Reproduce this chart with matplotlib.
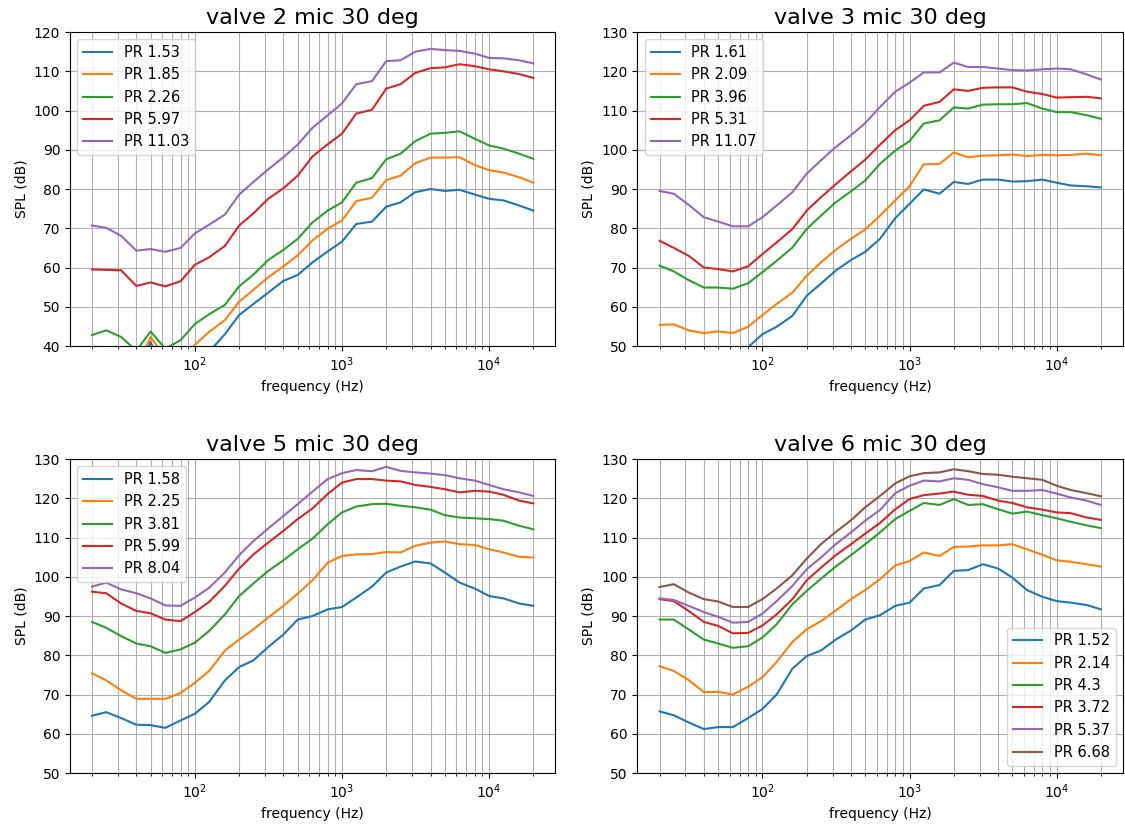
import numpy as np
import matplotlib.pyplot as plt

# 1/3 octave band centre frequencies
freq = [20, 25, 31.5, 40, 50, 63, 80, 100, 125, 160, 200, 250, 315, 400, 500,
        630, 800, 1000, 1250, 1600, 2000, 2500, 3150, 4000, 5000, 6300, 8000,
        10000, 12500, 16000, 20000]

# valve 2
v2_labels = ['PR 1.53', 'PR 1.85', 'PR 2.26', 'PR 5.97', 'PR 11.03']
v2_pr153 = [33, 34, 33, 32, 41.0, 33, 33, 35, 38.5, 43.0, 47.9, 50.7, 53.6, 56.6, 58.1,
            61.3, 64.1, 66.6, 71.1, 71.7, 75.5, 76.6, 79.2, 80.0, 79.5, 79.8, 78.6,
            77.5, 77.1, 75.8, 74.5]
v2_pr185 = [37, 38, 36, 34, 42.3, 37, 36, 40.3, 43.6, 46.6, 51.3, 54.3, 57.5, 60.3, 63.1,
            66.9, 69.9, 72.0, 76.9, 77.8, 82.3, 83.4, 86.6, 88.0, 88.0, 88.1, 86.1,
            84.8, 84.2, 83.0, 81.6]
v2_pr226 = [42.8, 44.0, 42.3, 38.8, 43.7, 39.3, 41.5, 45.6, 48.1, 50.5, 55.2, 58.2, 61.9,
            64.5, 67.3, 71.5, 74.5, 76.6, 81.6, 82.8, 87.6, 89.0, 92.2, 94.1, 94.3,
            94.7, 92.8, 91.1, 90.3, 89.0, 87.7]
v2_pr597 = [59.5, 59.4, 59.3, 55.3, 56.2, 55.2, 56.5, 60.7, 62.6, 65.5, 70.7, 73.8, 77.5,
            80.2, 83.4, 88.3, 91.4, 94.1, 99.2, 100.2, 105.6, 106.7, 109.6, 110.8,
            111.0, 111.8, 111.3, 110.5, 110.0, 109.3, 108.3]
v2_pr1103 = [70.7, 70.1, 68.1, 64.3, 64.7, 64.0, 65.0, 68.7, 70.9, 73.5, 78.6, 81.8, 85.0,
             88.1, 91.3, 95.6, 98.8, 101.8, 106.7, 107.5, 112.6, 112.8, 115.0, 115.7,
             115.4, 115.2, 114.5, 113.4, 113.3, 112.8, 112.0]

# valve 3
v3_labels = ['PR 1.61', 'PR 2.09', 'PR 3.96', 'PR 5.31', 'PR 11.07']
v3_pr161 = [47, 46.5, 45, 44, 44.5, 44, 49.7, 53.0, 54.9, 57.7, 62.8, 65.9, 69.2, 71.9,
            74.0, 77.3, 82.6, 86.2, 89.9, 88.8, 91.8, 91.3, 92.4, 92.4, 91.9, 92.0,
            92.4, 91.6, 90.9, 90.7, 90.4]
v3_pr209 = [55.4, 55.5, 54.0, 53.3, 53.7, 53.3, 54.9, 57.9, 60.7, 63.6, 67.9, 71.3, 74.5,
            77.3, 79.7, 83.2, 87.1, 90.7, 96.3, 96.4, 99.3, 98.1, 98.5, 98.6, 98.8,
            98.4, 98.7, 98.6, 98.7, 99.0, 98.6]
v3_pr396 = [70.5, 69.0, 66.8, 64.9, 64.9, 64.6, 66.0, 68.8, 71.7, 75.1, 79.8, 83.2, 86.6,
            89.4, 92.2, 96.4, 99.8, 102.2, 106.7, 107.5, 110.8, 110.5, 111.5, 111.6,
            111.6, 111.9, 110.5, 109.6, 109.6, 108.8, 107.9]
v3_pr531 = [76.8, 75.0, 73.0, 70.0, 69.6, 69.0, 70.3, 73.4, 76.4, 79.8, 84.5, 87.9, 91.2,
            94.5, 97.5, 101.3, 105.0, 107.5, 111.2, 112.2, 115.4, 115.0, 115.8, 115.9,
            115.9, 114.8, 114.2, 113.3, 113.4, 113.5, 113.1]
v3_pr1107 = [89.5, 88.8, 86.0, 82.8, 81.7, 80.5, 80.5, 82.8, 85.8, 89.2, 93.9, 97.3, 100.7,
             103.7, 106.8, 110.9, 114.8, 117.1, 119.7, 119.7, 122.2, 121.1, 121.1, 120.7,
             120.3, 120.2, 120.5, 120.7, 120.5, 119.2, 117.9]

# valve 5
v5_labels = ['PR 1.58', 'PR 2.25', 'PR 3.81', 'PR 5.99', 'PR 8.04']
v5_pr158 = [64.6, 65.5, 64.0, 62.3, 62.2, 61.5, 63.4, 65.1, 68.1, 73.6, 77.0, 78.7, 82.1,
            85.3, 89.1, 90.0, 91.7, 92.3, 94.7, 97.5, 101.1, 102.6, 103.9, 103.4, 101.1,
            98.5, 97.0, 95.1, 94.5, 93.2, 92.6]
v5_pr225 = [75.4, 73.6, 71.1, 68.9, 68.9, 68.9, 70.4, 73.0, 76.0, 81.2, 84.0, 86.6, 89.6,
            92.6, 95.7, 99.1, 103.6, 105.3, 105.7, 105.8, 106.3, 106.2, 107.9, 108.7,
            109.0, 108.3, 108.1, 107.0, 106.2, 105.1, 104.9]
v5_pr381 = [88.5, 87.0, 84.9, 83.0, 82.3, 80.6, 81.5, 83.2, 86.2, 90.4, 95.1, 98.3, 101.5,
            104.2, 107.0, 109.7, 113.4, 116.4, 117.9, 118.5, 118.6, 118.1, 117.7, 117.1,
            115.7, 115.1, 114.9, 114.7, 114.3, 113.0, 112.1]
v5_pr599 = [96.2, 95.8, 93.2, 91.3, 90.7, 89.1, 88.7, 91.0, 93.6, 97.7, 102.1, 105.7, 108.7,
            111.7, 114.7, 117.4, 121.1, 124.0, 124.9, 124.9, 124.5, 124.3, 123.4, 122.9,
            122.3, 121.5, 121.9, 121.7, 120.9, 119.4, 118.7]
v5_pr804 = [97.5, 98.5, 96.8, 95.8, 94.5, 92.7, 92.6, 94.7, 97.2, 101.1, 105.5, 109.1, 112.3,
            115.5, 118.5, 121.7, 124.9, 126.4, 127.2, 126.9, 128.0, 127.0, 126.6, 126.3,
            125.9, 125.1, 124.5, 123.4, 122.3, 121.5, 120.6]

# valve 6
v6_labels = ['PR 1.52', 'PR 2.14', 'PR 4.3', 'PR 3.72', 'PR 5.37', 'PR 6.68']
v6_pr152 = [65.7, 64.7, 62.9, 61.2, 61.7, 61.7, 64.0, 66.3, 70.0, 76.6, 79.8, 81.2, 84.0,
            86.3, 89.1, 90.2, 92.6, 93.4, 97.0, 97.9, 101.5, 101.7, 103.2, 102.1, 99.8,
            96.6, 94.9, 93.8, 93.4, 92.8, 91.7]
v6_pr214 = [77.2, 76.0, 73.7, 70.6, 70.7, 70.0, 72.0, 74.4, 78.3, 83.4, 86.6, 88.7, 91.4,
            94.3, 96.6, 99.4, 102.9, 104.0, 106.2, 105.3, 107.6, 107.7, 108.0, 108.0,
            108.3, 107.0, 105.6, 104.2, 103.8, 103.2, 102.6]
v6_pr430 = [89.1, 89.1, 86.6, 84.0, 83.0, 81.9, 82.3, 84.5, 87.9, 93.0, 96.4, 99.5, 102.6,
            105.5, 108.3, 111.3, 114.7, 116.8, 118.8, 118.3, 119.8, 118.3, 118.5, 117.2,
            116.1, 116.6, 115.7, 114.9, 114.0, 113.1, 112.4]
v6_pr372 = [94.3, 93.8, 91.3, 88.5, 87.5, 85.6, 85.7, 87.6, 90.4, 94.3, 99.1, 102.3, 105.5,
            108.3, 111.0, 113.7, 117.2, 119.8, 120.8, 121.2, 121.7, 120.9, 120.6, 119.4,
            118.8, 117.7, 117.1, 116.4, 116.2, 115.1, 114.5]
v6_pr537 = [94.5, 94.1, 92.6, 91.0, 89.8, 88.3, 88.5, 90.6, 93.8, 97.7, 101.9, 104.9, 108.3,
            111.3, 114.3, 117.0, 121.3, 123.2, 124.5, 124.3, 125.1, 124.7, 123.6, 122.8,
            121.9, 121.9, 122.1, 121.2, 120.2, 119.4, 118.3]
v6_pr668 = [97.4, 98.1, 96.0, 94.3, 93.7, 92.3, 92.3, 94.3, 97.0, 100.4, 104.6, 108.3, 111.4,
            114.4, 117.7, 120.6, 123.8, 125.6, 126.4, 126.6, 127.4, 126.9, 126.2, 126.0,
            125.5, 125.1, 124.7, 123.2, 122.1, 121.3, 120.5]

panels = [
    ('valve 2 mic 30 deg', v2_labels, [v2_pr153, v2_pr185, v2_pr226, v2_pr597, v2_pr1103], (40, 120), 'upper left'),
    ('valve 3 mic 30 deg', v3_labels, [v3_pr161, v3_pr209, v3_pr396, v3_pr531, v3_pr1107], (50, 130), 'upper left'),
    ('valve 5 mic 30 deg', v5_labels, [v5_pr158, v5_pr225, v5_pr381, v5_pr599, v5_pr804], (50, 130), 'upper left'),
    ('valve 6 mic 30 deg', v6_labels, [v6_pr152, v6_pr214, v6_pr430, v6_pr372, v6_pr537, v6_pr668], (50, 130), 'lower right'),
]

fig, axes = plt.subplots(2, 2, figsize=(11.25, 8.32), dpi=100)
fig.subplots_adjust(left=0.0622, right=0.9982, top=0.9615, bottom=0.0709,
                    wspace=0.169, hspace=0.36)

for ax, (title, labels, series, ylim, loc) in zip(axes.flat, panels):
    for lab, vals in zip(labels, series):
        ax.plot(freq, vals, label=lab)
    ax.set_xscale('log')
    ax.set_ylim(*ylim)
    ax.set_yticks(np.arange(ylim[0], ylim[1] + 1, 10))
    ax.grid(True, which='both')
    ax.set_title(title, fontsize=16)
    ax.set_xlabel('frequency (Hz)')
    ax.set_ylabel('SPL (dB)')
    ax.legend(loc=loc, fontsize=10.5)

plt.savefig('out.png')
